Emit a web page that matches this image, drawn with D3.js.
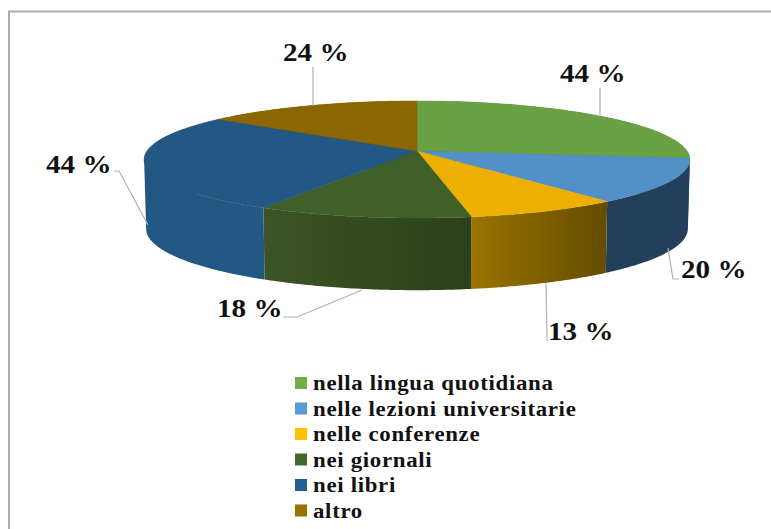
<!DOCTYPE html>
<html><head><meta charset="utf-8">
<script src="https://cdn.jsdelivr.net/npm/d3@7"></script>
<style>html,body{margin:0;padding:0;background:#fff}svg{display:block}</style>
</head><body><div id="c"></div>
<script>
const categories = ["nella lingua quotidiana","nelle lezioni universitarie","nelle conferenze","nei giornali","nei libri","altro"];
const values = [44,20,13,18,44,24];
const labels = ["44 %","20 %","13 %","18 %","44 %","24 %"];
const topColors = ["#6aa145","#5390c7","#eeb000","#3f6028","#235784","#8a6700"];
const wallFrom = ["#4a7030","#243f5a","#9a7400","#3c5526","#225683","#604800"];
const wallTo = ["#4a7030","#243f5a","#644c00","#2b3f1b","#235784","#604800"];
const legendColors = ["#70ad47","#5b9bd5","#ffc000","#43682b","#255e91","#997300"];

const W=771,H=529;
const svg=d3.select("#c").append("svg").attr("width",W).attr("height",H);
const defs=svg.append("defs");
svg.append("path").attr("d","M9,529V11.5H771").attr("fill","none").attr("stroke","#ababab").attr("stroke-width",2);

const cx=417,cy=151,k=0.145;
const project=(t,A,B,y0)=>{const u=Math.sin(t),v=-Math.cos(t),w=1-k*v;return [cx+A*u/w,y0+B*v/w];};
const topPt=t=>project(t,270,57.3,cy);
const botPt=t=>project(t,268,60,220);
const arcs=d3.pie().sort(null).value(d=>d)(values);
const line=d3.line();
const samples=a=>d3.range(0,61).map(i=>a.startAngle+(a.endAngle-a.startAngle)*i/60);

arcs.forEach((a,i)=>{
  const g=defs.append("linearGradient").attr("id","w"+i);
  g.append("stop").attr("offset",0).attr("stop-color",wallFrom[i]);
  g.append("stop").attr("offset",1).attr("stop-color",wallTo[i]);
});
const walls=svg.append("g");
arcs.forEach((a,i)=>{
  const s=samples(a);
  const strips=d3.pairs(s).map(([p,q])=>{
    const quad=[topPt(p),topPt(q),botPt(q),botPt(p)];
    if(d3.polygonArea(quad)<0) quad.reverse();
    return line(quad)+"Z";
  }).join("");
  walls.append("path").attr("d",strips).attr("fill",`url(#w${i})`).attr("fill-rule","nonzero");
});
const tops=svg.append("g");
arcs.forEach((a,i)=>{
  tops.append("path").attr("d",line([[cx,cy],...samples(a).map(topPt)])+"Z")
    .attr("fill",topColors[i]).attr("stroke",topColors[i]).attr("stroke-width",.5);
});

const leaderPaths=[[[600,115],[600,88]],[[668,248],[673,279],[679,279]],[[546,283],[547,341]],[[362,290],[297,317],[283,317]],[[148,225],[119,171],[114,171]],[[313,106],[313,67]]];
const labelX=[560,681,548,217,46,283];
const labelY=[82,278,340,317,172.5,60.5];
svg.append("g").selectAll("path").data(leaderPaths).join("path")
  .attr("d",d=>line(d)).attr("fill","none").attr("stroke","#b0b0b0").attr("stroke-width",1.2);
svg.append("g").selectAll("text").data(labels).join("text")
  .attr("transform",(d,i)=>`translate(${labelX[i]},${labelY[i]}) scale(1.12,1)`).text(d=>d)
  .attr("font-family","'Liberation Serif'").attr("font-weight","bold").attr("font-size",26).attr("fill","#111");

const rowY=d3.scalePoint().domain(categories).range([390,517.5]);
const leg=svg.append("g").selectAll("g").data(categories).join("g");
leg.append("rect").attr("x",295).attr("y",d=>rowY(d)-13).attr("width",12).attr("height",12).attr("fill",(d,i)=>legendColors[i]);
leg.append("text").attr("transform",d=>`translate(313,${rowY(d)}) scale(1.143,1)`).text(d=>d)
  .attr("font-family","'Liberation Serif'").attr("font-weight","bold").attr("font-size",20)
  .attr("letter-spacing",0.6).attr("fill","#111");
</script></body></html>
